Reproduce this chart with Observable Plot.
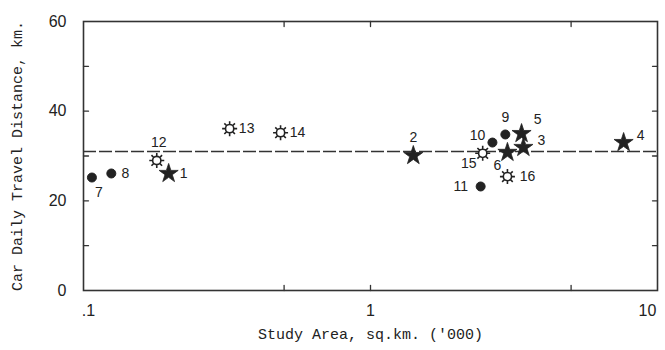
<!DOCTYPE html>
<html>
<head>
<meta charset="utf-8">
<script src="https://cdn.jsdelivr.net/npm/d3@7"></script>
<script src="https://cdn.jsdelivr.net/npm/@observablehq/plot@0.6"></script>
<style>
  body { margin: 0; background: #fff; }
  svg [aria-label="y-axis label"] text, svg [aria-label="x-axis label"] text { font-family: "Liberation Mono", "DejaVu Sans Mono", monospace; font-size: 15px; }
</style>
</head>
<body>
<div id="chart"></div>
<script>
// Data
const ids   = ["1","2","3","4","5","6","7","8","9","10","11","12","13","14","15","16"];
const area  = [0.198, 1.41, 3.41, 7.62, 3.36, 3.0, 0.107, 0.125, 2.95, 2.66, 2.42, 0.18, 0.323, 0.486, 2.46, 3.0];
const dist  = [26.1, 30.1, 31.9, 33.0, 35.0, 30.8, 25.2, 26.1, 34.8, 33.0, 23.2, 29.0, 36.1, 35.2, 30.6, 25.4];
const kind  = ["star","star","star","star","star","star","circle","circle","circle","circle","circle","sun","sun","sun","sun","sun"];
const meanDistance = [31];
const xTicks = [0.1, 1, 10];
const xTickLabels = [".1", "1", "10"];
const xMinorTicks = [0.5, 1, 5];
const yTicks = [0, 20, 40, 60];
const yMinorTicks = [10, 20, 30, 40, 50];

const points = ids.map((id, i) => ({id, area: area[i], dist: dist[i], kind: kind[i]}));

// label placement (styling)
const labelOffset = {
  "1": [15, 0], "2": [0, -18], "3": [18, -7], "4": [17, -7], "5": [16, -14], "6": [-10, 13],
  "7": [7, 15], "8": [14, 0], "9": [0, -17], "10": [-15, -7], "11": [-20, 0], "12": [2, -18],
  "13": [17, 0], "14": [17, 0], "15": [-14, 10], "16": [20, 0]
};
const xTickDx = [5, 0, -10];

const sun = {
  draw(ctx, size) {
    const r = Math.sqrt(size / Math.PI);
    const rc = r * 0.55;
    ctx.moveTo(rc, 0);
    ctx.arc(0, 0, rc, 0, 2 * Math.PI);
    for (let k = 0; k < 8; k++) {
      const a = k * Math.PI / 4;
      ctx.moveTo(rc * Math.cos(a), rc * Math.sin(a));
      ctx.lineTo(r * Math.cos(a), r * Math.sin(a));
    }
  }
};

const tickLine = { draw(ctx, l) { ctx.moveTo(0, 0); ctx.lineTo(0, -l); } };
const tickOpts = {length: 5, anchor: "start", shape: tickLine, stroke: "#333", strokeWidth: 1.3};

const labelMarks = points.map(p => Plot.text([p], {
  x: "area", y: "dist", text: "id",
  dx: labelOffset[p.id][0], dy: labelOffset[p.id][1],
  fontSize: 14, fill: "#222",
  fontFamily: "Liberation Sans, Arial, sans-serif",
  style: "letter-spacing:1.5px"
}));

const xTickMarks = xTicks.map((t, i) => Plot.axisX([t], {
  anchor: "bottom", tickSize: 0, tickPadding: 14, dx: xTickDx[i],
  tickFormat: () => xTickLabels[i], fontSize: 16, style: "letter-spacing:2px",
  label: i === 1 ? "Study Area, sq.km. ('000)" : null,
  labelAnchor: "center", labelOffset: 48, labelArrow: false
}));

const chart = Plot.plot({
  width: 665,
  height: 350,
  marginLeft: 83,
  marginRight: 8,
  marginTop: 21,
  marginBottom: 60,
  style: {fontFamily: "Liberation Sans, Arial, sans-serif", background: "#fff", color: "#222"},
  x: {type: "log", domain: [0.1, 10]},
  y: {domain: [0, 60]},
  marks: [
    Plot.frame({stroke: "#333", strokeWidth: 1.6}),
    Plot.ruleY(meanDistance, {stroke: "#333", strokeWidth: 1.6, strokeDasharray: "13,3"}),
    // inward minor ticks
    Plot.vector(xMinorTicks, {x: d => d, frameAnchor: "bottom", rotate: 0, ...tickOpts}),
    Plot.vector(xMinorTicks, {x: d => d, frameAnchor: "top", rotate: 180, ...tickOpts}),
    Plot.vector(yMinorTicks, {y: d => d, frameAnchor: "left", rotate: 90, ...tickOpts}),
    Plot.vector(yMinorTicks, {y: d => d, frameAnchor: "right", rotate: -90, ...tickOpts}),
    // labeled axes
    ...xTickMarks,
    Plot.axisY(yTicks, {anchor: "left", tickSize: 0, tickPadding: 17, fontSize: 16, style: "letter-spacing:1px",
      label: "Car Daily Travel Distance, km.", labelAnchor: "center", labelOffset: 72, labelArrow: false}),
    Plot.dot(points.filter(d => d.kind === "circle"), {x: "area", y: "dist", r: 4.5, fill: "#222", stroke: "#222", strokeWidth: 1}),
    Plot.dot(points.filter(d => d.kind === "star"), {x: "area", y: "dist", r: 6, symbol: "star", fill: "#222", stroke: "#222", strokeWidth: 0.8}),
    Plot.dot(points.filter(d => d.kind === "sun"), {x: "area", y: "dist", r: 7.5, symbol: sun, fill: "#fff", stroke: "#222", strokeWidth: 1.6}),
    ...labelMarks
  ]
});
document.getElementById("chart").append(chart);
</script>
</body>
</html>
